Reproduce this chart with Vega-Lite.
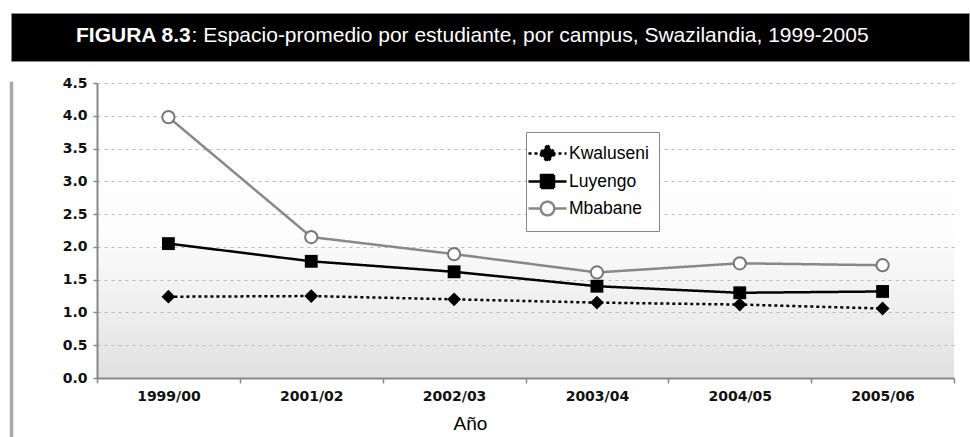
{
  "$schema": "https://vega.github.io/schema/vega-lite/v6.json",
  "padding": {"left": 9, "top": 12, "right": 0, "bottom": 0},
  "background": "white",
  "spacing": 14,
  "config": {"font": "Liberation Sans", "view": {"stroke": null}},
  "vconcat": [
    {
      "width": 958,
      "height": 48,
      "view": {"fill": "#000000", "stroke": "#888888", "strokeWidth": 1},
      "data": {"values": [{"figura": "FIGURA 8.3", "titulo": ": Espacio-promedio por estudiante, por campus, Swazilandia, 1999-2005"}]},
      "layer": [
        {
          "mark": {"type": "text", "align": "left", "baseline": "middle", "dx": -414, "dy": -1, "fontSize": 21, "fontWeight": "bold", "color": "#ffffff", "font": "Liberation Sans"},
          "encoding": {"text": {"field": "figura", "type": "nominal"}}
        },
        {
          "mark": {"type": "text", "align": "left", "baseline": "middle", "dx": -298.5, "dy": -1, "fontSize": 21, "fontWeight": "normal", "color": "#ffffff", "font": "Liberation Sans"},
          "encoding": {"text": {"field": "titulo", "type": "nominal"}}
        }
      ]
    },
    {
      "spacing": 43,
      "hconcat": [
        {
          "width": 1,
          "height": 355,
          "view": {"fill": null, "stroke": "#a8a8a8", "strokeWidth": 2.5},
          "data": {"values": []},
          "mark": {"type": "point"}
        },
        {
          "width": 857,
          "height": 295,
          "view": {"stroke": null, "fill": {"gradient": "linear", "x1": 0, "y1": 0, "x2": 0, "y2": 1, "stops": [{"offset": 0, "color": "#ffffff"}, {"offset": 0.5, "color": "#fdfdfd"}, {"offset": 1, "color": "#e1e1e1"}]}},
          "data": {"values": [
            {"periodo": "1999/00", "campus": "Kwaluseni", "valor": 1.24},
            {"periodo": "2001/02", "campus": "Kwaluseni", "valor": 1.25},
            {"periodo": "2002/03", "campus": "Kwaluseni", "valor": 1.2},
            {"periodo": "2003/04", "campus": "Kwaluseni", "valor": 1.15},
            {"periodo": "2004/05", "campus": "Kwaluseni", "valor": 1.12},
            {"periodo": "2005/06", "campus": "Kwaluseni", "valor": 1.06},
            {"periodo": "1999/00", "campus": "Luyengo", "valor": 2.05},
            {"periodo": "2001/02", "campus": "Luyengo", "valor": 1.78},
            {"periodo": "2002/03", "campus": "Luyengo", "valor": 1.62},
            {"periodo": "2003/04", "campus": "Luyengo", "valor": 1.4},
            {"periodo": "2004/05", "campus": "Luyengo", "valor": 1.3},
            {"periodo": "2005/06", "campus": "Luyengo", "valor": 1.32},
            {"periodo": "1999/00", "campus": "Mbabane", "valor": 3.98},
            {"periodo": "2001/02", "campus": "Mbabane", "valor": 2.15},
            {"periodo": "2002/03", "campus": "Mbabane", "valor": 1.89},
            {"periodo": "2003/04", "campus": "Mbabane", "valor": 1.61},
            {"periodo": "2004/05", "campus": "Mbabane", "valor": 1.75},
            {"periodo": "2005/06", "campus": "Mbabane", "valor": 1.72}
          ]},
          "encoding": {
            "x": {
              "field": "periodo", "type": "nominal",
              "sort": ["1999/00", "2001/02", "2002/03", "2003/04", "2004/05", "2005/06"],
              "scale": {"paddingInner": 0, "paddingOuter": 0},
              "axis": {
                "title": "Año", "labelAngle": 0, "tickBand": "extent", "grid": false,
                "domainColor": "#888888", "domainWidth": 2, "tickColor": "#888888", "tickSize": 5, "tickWidth": 1.5,
                "labelFont": "DejaVu Sans", "labelFontWeight": "bold", "labelFontSize": 14, "labelColor": "#111111", "labelPadding": 6,
                "titleFont": "Liberation Sans", "titleFontSize": 19, "titleFontWeight": "normal", "titleColor": "#000000",
                "titleX": 373, "titleY": 51, "titleAlign": "center", "titleBaseline": "alphabetic"
              }
            },
            "y": {
              "field": "valor", "type": "quantitative",
              "scale": {"domain": [0, 4.5], "nice": false, "zero": true},
              "axis": {
                "title": null, "values": [0, 0.5, 1, 1.5, 2, 2.5, 3, 3.5, 4, 4.5], "format": ".1f",
                "grid": true, "gridColor": "#bbbbbb", "gridDash": [3, 4], "gridWidth": 1,
                "domainColor": "#888888", "domainWidth": 2, "tickColor": "#888888", "tickSize": 4, "tickWidth": 1.5,
                "labelFont": "DejaVu Sans", "labelFontWeight": "bold", "labelFontSize": 14, "labelColor": "#111111", "labelPadding": 6,
                "minExtent": 40
              }
            }
          },
          "layer": [
            {
              "mark": {"type": "line", "strokeWidth": 2.5},
              "encoding": {
                "color": {
                  "field": "campus", "type": "nominal",
                  "scale": {"domain": ["Kwaluseni", "Luyengo", "Mbabane"], "range": ["#000000", "#000000", "#888888"]},
                  "legend": {
                    "orient": "none", "legendX": 515, "legendY": 119, "title": null,
                    "strokeColor": "#888888", "fillColor": "#ffffff", "padding": 10,
                    "symbolSize": 400, "symbolStrokeWidth": 2.5,
                    "labelFont": "Liberation Sans", "labelFontSize": 17.5, "labelColor": "#000000", "labelOffset": 10, "rowPadding": 3,
                    "encode": {
                      "symbols": {
                        "update": {
                          "shape": {"signal": "datum.value === 'Kwaluseni' ? 'M-1.9,0H1.9M0,-0.8L0.8,0L0,0.8L-0.8,0Z' : datum.value === 'Luyengo' ? 'M-1.9,0H1.9M-0.65,-0.65H0.65V0.65H-0.65Z' : 'M-1.9,0H-0.68M0.68,0H1.9M0.68,0A0.68,0.68 0 1,1 -0.68,0A0.68,0.68 0 1,1 0.68,0Z'"},
                          "fill": {"signal": "datum.value === 'Mbabane' ? '#ffffff' : '#000000'"},
                          "strokeDash": {"signal": "datum.value === 'Kwaluseni' ? [5, 5] : []"}
                        }
                      }
                    }
                  }
                },
                "strokeDash": {
                  "field": "campus", "type": "nominal",
                  "scale": {"domain": ["Kwaluseni", "Luyengo", "Mbabane"], "range": [[3, 3], [1, 0], [1, 0]]},
                  "legend": null
                }
              }
            },
            {
              "transform": [{"filter": "datum.campus === 'Kwaluseni'"}],
              "mark": {"type": "point", "shape": "diamond", "filled": true, "opacity": 1, "color": "#000000", "size": 190}
            },
            {
              "transform": [{"filter": "datum.campus === 'Luyengo'"}],
              "mark": {"type": "point", "shape": "square", "filled": true, "opacity": 1, "color": "#000000", "size": 165}
            },
            {
              "transform": [{"filter": "datum.campus === 'Mbabane'"}],
              "mark": {"type": "point", "shape": "circle", "filled": false, "opacity": 1, "fill": "#ffffff", "fillOpacity": 1, "stroke": "#777777", "strokeWidth": 2, "size": 150}
            }
          ]
        }
      ]
    }
  ]
}
